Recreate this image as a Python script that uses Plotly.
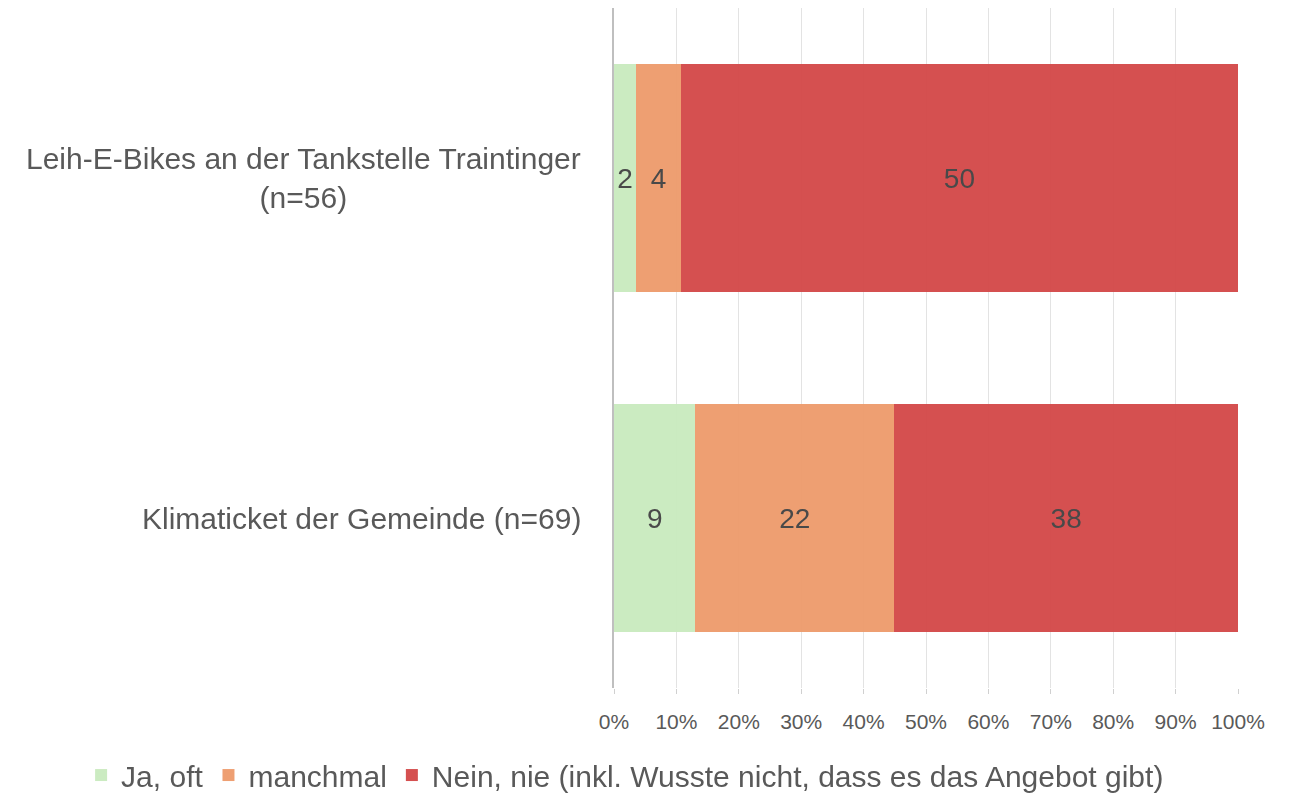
import plotly.graph_objects as go

categories = ["Leih-E-Bikes an der Tankstelle Traintinger<br>(n=56)", "Klimaticket der Gemeinde (n=69)"]
series_names = ["Ja, oft", "manchmal", "Nein, nie (inkl. Wusste nicht, dass es das Angebot gibt)"]
ja_oft = [2, 9]
manchmal = [4, 22]
nein_nie = [50, 38]
colors = ["#C9EABE", "#EE9A6B", "#D34747"]
tick_vals = [0, 10, 20, 30, 40, 50, 60, 70, 80, 90, 100]
tick_text = [f"{v}%" for v in tick_vals]

FONT = "Liberation Sans"
fig = go.Figure()
for name, vals, col in zip(series_names, [ja_oft, manchmal, nein_nie], colors):
    fig.add_trace(go.Bar(
        y=categories, x=vals, name=name, orientation="h",
        marker=dict(color=col, line=dict(width=0)), opacity=0.95,
        text=[str(v) for v in vals], textposition="inside", insidetextanchor="middle",
        textfont=dict(family=FONT, size=28, color="#404040"),
        constraintext="none", cliponaxis=False,
    ))

# category labels, centred multi-line like the reference
for cat in categories:
    fig.add_annotation(x=0, xref="paper", y=cat, yref="y", text=cat,
                       xanchor="right", yanchor="middle", align="center",
                       xshift=-31, showarrow=False,
                       font=dict(family=FONT, size=30, color="#595959"))

fig.update_layout(
    barmode="stack", barnorm="percent", bargap=0.33,
    width=1292, height=797,
    margin=dict(l=606, r=62, t=0, b=117, autoexpand=False),
    paper_bgcolor="white", plot_bgcolor="white",
    font=dict(family=FONT, color="#595959"),
    uniformtext=dict(mode=False),
    legend=dict(orientation="h", x=-0.854, xanchor="left", y=-0.128, yanchor="middle",
                font=dict(size=30, color="#595959"), traceorder="normal",
                bgcolor="rgba(0,0,0,0)"),
    showlegend=True,
)
fig.update_xaxes(range=[0, 100], tickvals=tick_vals, ticktext=tick_text,
                 showgrid=True, gridcolor="#E3E3E3", gridwidth=1,
                 ticks="outside", ticklen=5, tickcolor="#D0D0D0",
                 tickfont=dict(size=21, color="#595959"), zeroline=False,
                 showline=False, ticklabelstandoff=10, fixedrange=True)
fig.update_yaxes(autorange="reversed", showline=True, linecolor="#BFBFBF", linewidth=2,
                 ticks="", showticklabels=False, showgrid=False)

fig.write_html("out.html")
